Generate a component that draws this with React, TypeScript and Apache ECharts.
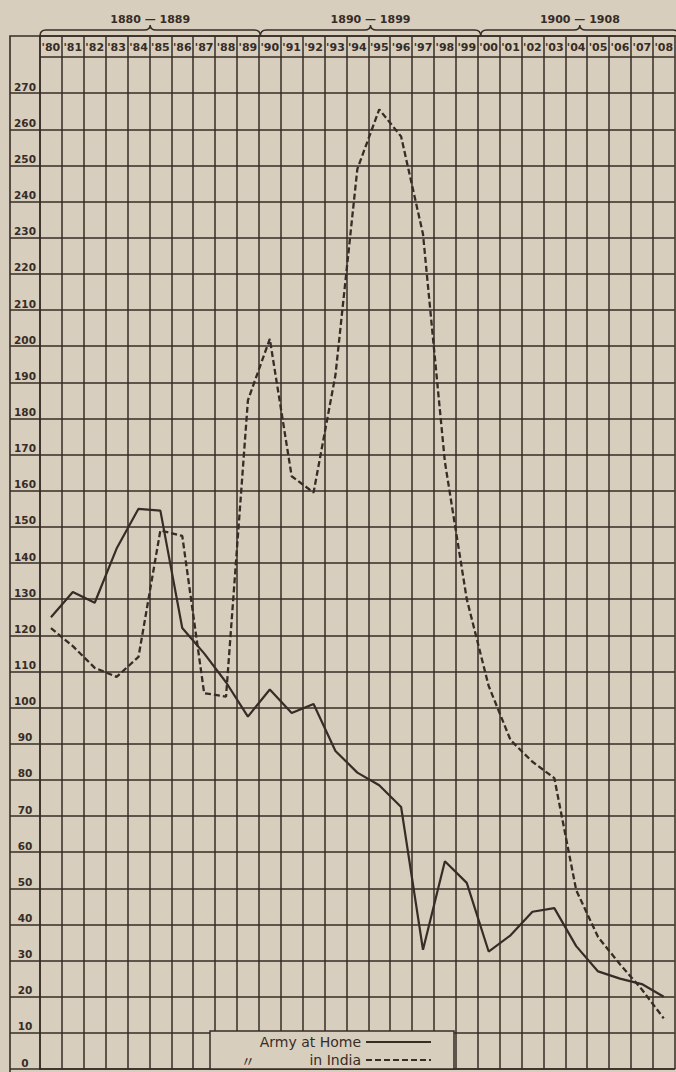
import React, { useEffect, useRef } from "react";
import * as echarts from "echarts";

// ---- data ----
const years = [
  "'80", "'81", "'82", "'83", "'84", "'85", "'86", "'87", "'88", "'89",
  "'90", "'91", "'92", "'93", "'94", "'95", "'96", "'97", "'98", "'99",
  "'00", "'01", "'02", "'03", "'04", "'05", "'06", "'07", "'08",
];
const armyAtHome = [
  125, 132, 129, 144, 155, 154.5, 122, 115, 107, 97.5,
  105, 98.5, 101, 88, 82, 78.5, 72.5, 33, 57.5, 51.5,
  32.5, 37, 43.5, 44.5, 34, 27, 25, 23.5, 20,
];
const armyInIndia = [
  122, 117, 111, 108.5, 114, 149, 147.5, 104, 103, 185,
  202, 164, 159.5, 192, 249, 265.5, 258, 231, 168, 130,
  106, 91, 85, 80.5, 49.5, 36.5, 29, 22, 14,
];
const seriesNames = ["Army at Home", "〃 in India"];
const periodLabels = ["1880 — 1889", "1890 — 1899", "1900 — 1908"];
const periodSpans = [
  [0, 10],
  [10, 20],
  [20, 29],
];
const yMax = 280;
const yStep = 10;

// ---- layout / style ----
const W = 676;
const H = 1072;
const BG = "#d8cebd";
const INK = "#372c26";
const FONT = "DejaVu Sans";
const GRID_LEFT = 40;
const GRID_WIDTH = 639;
const GRID_TOP = 36;
const ZERO_Y = 1069;
const HEADER_BOTTOM = 57;
const unit = (ZERO_Y - HEADER_BOTTOM) / yMax;
const topValue = (ZERO_Y - GRID_TOP) / unit;
const LABEL_TOP = ZERO_Y - (yMax - yStep) * unit;
const colW = GRID_WIDTH / years.length;

function bracePath(x0: number, x1: number) {
  const yBase = 30;
  const yEnd = 36;
  const yTip = 25;
  const r = 6;
  const m = (x0 + x1) / 2;
  return (
    `M${x0},${yEnd} Q${x0},${yBase} ${x0 + r},${yBase} L${m - r},${yBase} ` +
    `Q${m},${yBase} ${m},${yTip} Q${m},${yBase} ${m + r},${yBase} ` +
    `L${x1 - r},${yBase} Q${x1},${yBase} ${x1},${yEnd}`
  );
}

periodSpans.forEach(([a, b], i) => {
  echarts.graphic.registerShape(
    "brace" + i,
    (echarts.graphic as any).extendPath(
      bracePath(GRID_LEFT + a * colW, GRID_LEFT + b * colW),
      {}
    )
  );
});

const gridLine = { color: INK, width: 1.5 };

export default function App() {
  const ref = useRef<HTMLDivElement>(null);

  useEffect(() => {
    document.body.style.margin = "0";
    document.body.style.background = BG;
    const chart = echarts.init(ref.current!, null, { renderer: "svg" });

    const legendText = {
      fontSize: 14,
      lineHeight: 16,
      fontFamily: FONT,
      color: INK,
    };

    const option: any = {
      animation: false,
      backgroundColor: BG,
      textStyle: { fontFamily: FONT },
      grid: [
        {
          left: GRID_LEFT,
          top: GRID_TOP,
          width: GRID_WIDTH,
          height: ZERO_Y - GRID_TOP,
        },
        {
          left: 10,
          top: LABEL_TOP,
          width: GRID_LEFT - 10,
          height: ZERO_Y - LABEL_TOP,
        },
      ],
      xAxis: [
        {
          type: "category",
          gridIndex: 0,
          data: years,
          position: "top",
          boundaryGap: true,
          axisLine: { show: true, lineStyle: gridLine },
          axisTick: { show: false },
          axisLabel: {
            show: true,
            inside: true,
            interval: 0,
            margin: 11,
            verticalAlign: "middle",
            color: INK,
            fontSize: 11,
            fontWeight: "bold",
            fontFamily: FONT,
          },
          splitLine: { show: true, interval: 0, lineStyle: gridLine },
        },
        { type: "value", gridIndex: 1, show: false, min: 0, max: 1 },
      ],
      yAxis: [
        {
          type: "value",
          gridIndex: 0,
          min: 0,
          max: topValue,
          interval: yStep,
          axisLabel: { show: false },
          axisTick: { show: false },
          axisLine: { show: true, lineStyle: gridLine },
          splitLine: { show: true, lineStyle: gridLine },
        },
        {
          type: "value",
          gridIndex: 1,
          min: 0,
          max: yMax - yStep,
          interval: yStep,
          position: "left",
          axisLine: { show: false },
          axisTick: { show: false },
          splitLine: { show: true, lineStyle: gridLine },
          axisLabel: {
            show: true,
            inside: true,
            margin: 15,
            align: "center",
            verticalAlign: "bottom",
            padding: [0, 0, 1, 0],
            color: INK,
            fontSize: 10.5,
            fontWeight: "bold",
            fontFamily: FONT,
          },
        },
      ],
      legend: {
        data: seriesNames,
        orient: "vertical",
        left: 210,
        top: 1031,
        height: 60,
        align: "right",
        itemWidth: 65,
        itemHeight: 12,
        itemGap: 2,
        padding: [3, 22, 1, 14],
        backgroundColor: BG,
        borderColor: INK,
        borderWidth: 1.5,
        borderRadius: 0,
        selectedMode: false,
        itemStyle: { opacity: 0, borderWidth: 0 },
        formatter: (name: string) => {
          const sp = name.indexOf(" ");
          if (name.startsWith("〃") && sp > 0) {
            return `{d|${name.slice(0, sp)}}{m|${name.slice(sp + 1)}}`;
          }
          return `{n|${name}}`;
        },
        textStyle: {
          ...legendText,
          rich: {
            n: { ...legendText, width: 137, align: "right" },
            d: {
              ...legendText,
              width: 48,
              align: "center",
              fontFamily: "Noto Sans CJK JP",
            },
            m: { ...legendText, width: 89, align: "right" },
          },
        },
      },
      series: [
        {
          name: seriesNames[0],
          type: "line",
          xAxisIndex: 0,
          yAxisIndex: 0,
          data: armyAtHome,
          symbol: "none",
          lineStyle: { color: INK, width: 2.2, type: "solid" },
          itemStyle: { color: INK },
          z: 3,
        },
        {
          name: seriesNames[1],
          type: "line",
          xAxisIndex: 0,
          yAxisIndex: 0,
          data: armyInIndia,
          symbol: "none",
          lineStyle: { color: INK, width: 2.3, type: [6, 3] },
          itemStyle: { color: INK },
          z: 3,
        },
      ],
      graphic: [
        {
          type: "rect",
          silent: true,
          shape: { x: 10, y: 36, width: 720, height: 1100 },
          style: { fill: "none", stroke: INK, lineWidth: 1.6 },
        },
        ...periodSpans.map((_, i) => ({
          type: "brace" + i,
          silent: true,
          x: 0,
          y: 0,
          style: { fill: "none", stroke: INK, lineWidth: 1.5 },
        })),
        ...periodLabels.map((t, i) => ({
          type: "text",
          silent: true,
          x: GRID_LEFT + ((periodSpans[i][0] + periodSpans[i][1]) / 2) * colW,
          y: 19,
          style: {
            text: t,
            fill: INK,
            font: `bold 11px "${FONT}"`,
            align: "center",
            verticalAlign: "middle",
            textAlign: "center",
            textVerticalAlign: "middle",
          },
        })),
      ],
    };

    chart.setOption(option);
    return () => chart.dispose();
  }, []);

  return (
    <div
      ref={ref}
      style={{ position: "absolute", left: 0, top: 0, width: W, height: H }}
    />
  );
}
